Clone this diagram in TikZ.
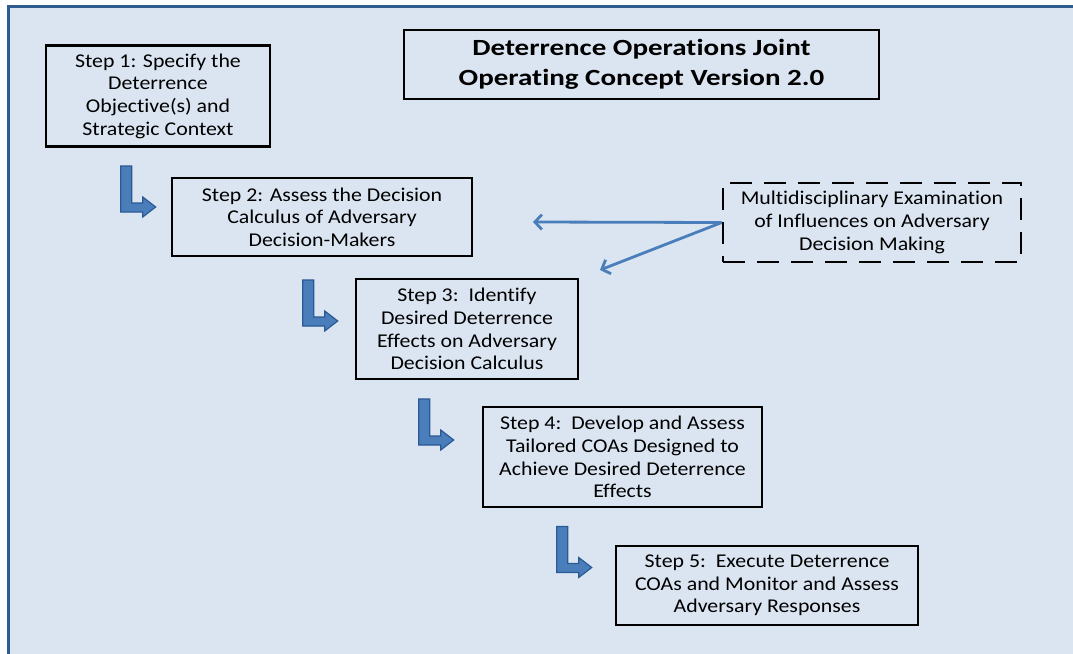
\documentclass[tikz,border=0pt]{standalone}
\usepackage{fontspec}
\setmainfont{Carlito}[FakeStretch=1.12,Ligatures=NoCommon]
\newfontfamily\headfont{Carlito}[FakeStretch=1.25,Ligatures=NoCommon]
\usepackage{xcolor}
\usetikzlibrary{arrows.meta,positioning}

\definecolor{paneblue}{HTML}{DBE5F1}
\definecolor{frameblue}{HTML}{2F5B8F}
\definecolor{elbowblue}{HTML}{4A7EBB}
\definecolor{elbowedge}{HTML}{2A5A94}
\definecolor{linkblue}{HTML}{4A7EBB}

\tikzset{
  stepbox/.style={draw=black,line width=2.6pt,align=center,inner sep=0pt,
    font=\fontsize{19.5}{22.7}\selectfont},
  headbox/.style={stepbox,font=\headfont\fontsize{23.2}{29.5}\selectfont\bfseries},
  exambox/.style={stepbox,dash pattern=on 22pt off 12pt},
  link/.style={draw=linkblue,line width=2.8pt,-{Straight Barb[length=7pt,width=15pt,line width=2.8pt]}},
  elbow/.pic={
    \draw[fill=elbowblue,draw=elbowedge,line width=1.2pt,line join=miter]
      (0,0) -- (-13,-10) -- (-13,-4) -- (-24,-4) -- (-24,-41) -- (-35,-41)
      -- (-35,5) -- (-13,5) -- (-13,10) -- cycle;
  }
}

\begin{document}
\begin{tikzpicture}[x=1pt,y=-1pt]
  \useasboundingbox (0,0) rectangle (1073,653);
  % background pane
  \draw[fill=paneblue,draw=frameblue,line width=3pt] (8.5,6.5) rectangle (1090,670);

  % title and steps
  \node[headbox,minimum width=475pt,minimum height=69pt] (title) at (641.5,64.5)
    {Deterrence Operations Joint\\Operating Concept Version 2.0};
  \node[stepbox,minimum width=224pt,minimum height=101pt] (s1) at (158,96)
    {Step 1: Specify the\\Deterrence\\Objective(s) and\\Strategic Context};
  \node[stepbox,minimum width=300pt,minimum height=78pt] (s2) at (322,217)
    {Step 2: Assess the Decision\\Calculus of Adversary\\Decision-Makers};
  \node[stepbox,minimum width=222pt,minimum height=100pt] (s3) at (467,329)
    {Step 3:\ \ Identify\\Desired Deterrence\\Effects on Adversary\\Decision Calculus};
  \node[stepbox,minimum width=279pt,minimum height=100pt] (s4) at (622.5,457)
    {Step 4:\ \ Develop and Assess\\Tailored COAs Designed to\\Achieve Desired Deterrence\\Effects};
  \node[stepbox,minimum width=302pt,minimum height=79pt] (s5) at (767,585.5)
    {Step 5:\ \ Execute Deterrence\\COAs and Monitor and Assess\\Adversary Responses};

  % influences box
  \node[exambox,minimum width=298pt,minimum height=79pt] (exam) at (872,222.5)
    {Multidisciplinary Examination\\of Influences on Adversary\\Decision Making};

  % elbow arrows between steps
  \pic at ([shift={(-15,-10)}]s2.west) {elbow};
  \pic at ([shift={(-17,-8)}]s3.west) {elbow};
  \pic at ([shift={(-28,-17)}]s4.west) {elbow};
  \pic at ([shift={(-23,-18)}]s5.west) {elbow};

  % influence links
  \coordinate (to2) at (533,222);
  \coordinate (to3) at (600,270);
  \draw[link] (exam.west) -- (to2);
  \draw[link] (exam.west) -- (to3);
\end{tikzpicture}
\end{document}
